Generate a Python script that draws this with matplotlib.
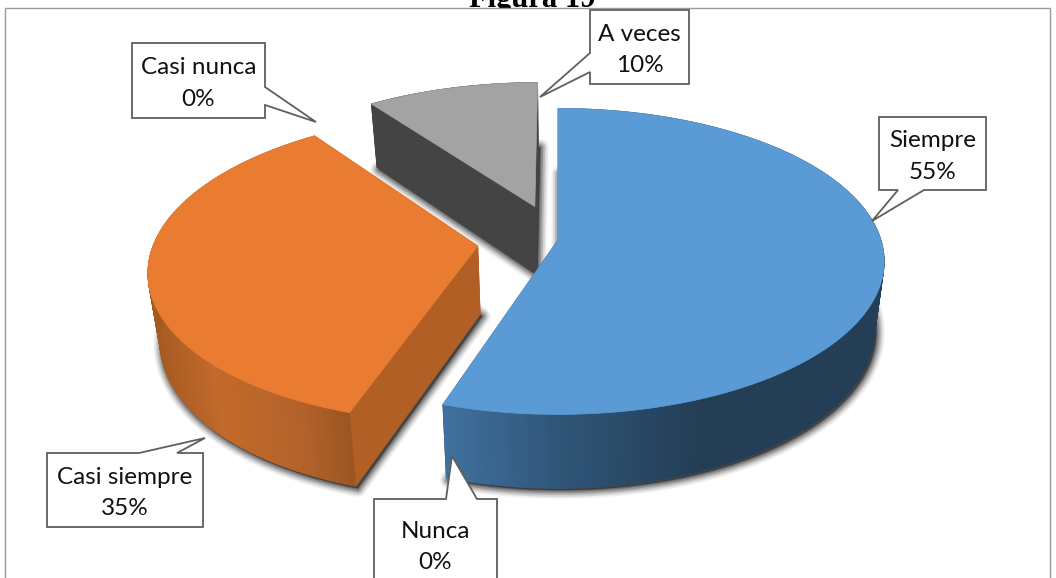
import numpy as np
import matplotlib
matplotlib.use("Agg")
import matplotlib.pyplot as plt
from matplotlib.patches import Polygon, Rectangle
from matplotlib.collections import PolyCollection
from matplotlib.colors import to_rgb

# ---- data ----
categories = ["Siempre", "Nunca", "Casi siempre", "Casi nunca", "A veces"]
percentages = [55, 0, 35, 0, 10]
title = "Figura 19"

# ---- styles / layout (pixel space) ----
top_colors = ["#5B9BD5", "#4472C4", "#EA7C31", "#FFC000", "#A3A3A3"]
cut_colors = ["#2F5573", "#2F5573", "#B25F26", "#806000", "#444444"]
explode = [(0, 0), (0, 0), (-0.247, 0.04), (0, 0), (-0.074, -0.23)]
side_stops = [
    [(443, "#41719F"), (560, "#2F5578"), (700, "#233E56"), (890, "#233E56")],
    [(443, "#41719F"), (890, "#233E56")],
    [(148, "#A55A22"), (215, "#C56A2A"), (300, "#B3622A"), (352, "#9B5421")],
    [(148, "#A55A22"), (352, "#9B5421")],
    [(370, "#444444"), (540, "#444444")],
]
callouts = [
    dict(box=(879, 117, 986, 190), tip=(872, 221), side="bottom", base=(898, 924)),
    dict(box=(374, 499, 497, 600), tip=(452, 456), side="top", base=(446, 477), text_y=544),
    dict(box=(47, 453, 203, 527), tip=(205, 438), side="top", base=(139, 177)),
    dict(box=(132, 43, 265, 118), tip=(316, 122), side="right", base=(87, 105)),
    dict(box=(590, 10, 689, 84), tip=(540, 97), side="left", base=(53, 72)),
]
CX, CY, R, RY, K, DEPTH, BOTTOM_SCALE = 558, 240, 323, 150, 0.14, 68, 0.97

fig = plt.figure(figsize=(10.56, 5.78), dpi=100)
ax = fig.add_axes([0, 0, 1, 1])
ax.set_xlim(0, 1056)
ax.set_ylim(578, 0)
ax.axis("off")


def project(theta, ex, radial=1.0, bottom=False):
    """Clockwise angle from 12 o'clock on an exploded slice -> perspective screen position."""
    u = radial * np.sin(theta) + ex[0]
    v = -radial * np.cos(theta) + ex[1]
    s = 1 / (1 - K * v)
    scale = BOTTOM_SCALE if bottom else 1.0
    x = CX + R * u * s * scale
    y = CY + RY * v * s * scale + (DEPTH * s if bottom else 0)
    return x, y


def side_color(x, stops):
    xs = [p[0] for p in stops]
    cols = np.array([to_rgb(p[1]) for p in stops])
    return tuple(np.interp(x, xs, cols[:, i]) for i in range(3))


edges = np.cumsum([0] + percentages) / sum(percentages) * 2 * np.pi

# shadows of the bottom faces
for i in range(len(percentages)):
    if percentages[i] == 0:
        continue
    t = np.linspace(edges[i], edges[i + 1], 120)
    e = explode[i]
    bx, by = project(t, e, bottom=True)
    ax0, ay0 = project(0.0, e, radial=0.0, bottom=True)
    pts = np.column_stack([np.r_[ax0, bx] + 2, np.r_[ay0, by] + 2])
    for lw, al in [(12, 0.08), (9.5, 0.12), (7, 0.18), (4.5, 0.25), (2, 0.35)]:
        ax.add_patch(Polygon(pts, closed=True, fc="#2A2A2A", ec="#2A2A2A", lw=lw,
                             alpha=al, joinstyle="round", zorder=1))

# slices, back to front
draw_order = [4, 2, 0]
for zi, i in enumerate(draw_order):
    if percentages[i] == 0:
        continue
    z = 2 + zi
    e = explode[i]
    t = np.linspace(edges[i], edges[i + 1], 240)
    tx, ty = project(t, e)
    bx, by = project(t, e, bottom=True)
    apx, apy = project(0.0, e, radial=0.0)
    abx, aby = project(0.0, e, radial=0.0, bottom=True)

    # cut faces
    for j in (0, -1):
        ax.add_patch(Polygon([(apx, apy), (tx[j], ty[j]), (bx[j], by[j]), (abx, aby)],
                             closed=True, fc=cut_colors[i], ec=cut_colors[i], lw=0.5, zorder=z))
    # outer wall with gradient (the top face hides its back part)
    quads, cols = [], []
    for k in range(len(t) - 1):
        quads.append([(tx[k], ty[k]), (tx[k + 1], ty[k + 1]), (bx[k + 1], by[k + 1]), (bx[k], by[k])])
        cols.append(side_color(0.5 * (tx[k] + tx[k + 1]), side_stops[i]))
    ax.add_collection(PolyCollection(quads, facecolors=cols, edgecolors=cols, linewidths=0.5, zorder=z + 0.1))
    # top face
    ax.add_patch(Polygon(np.column_stack([np.r_[apx, tx], np.r_[apy, ty]]), closed=True,
                         fc=top_colors[i], ec=top_colors[i], lw=0.5, zorder=z + 0.2))

# callouts
for name, pct, co in zip(categories, percentages, callouts):
    x0, y0, x1, y1 = co["box"]
    a, b = co["base"]
    tip = co["tip"]
    if co["side"] == "top":
        pts = [(x0, y0), (a, y0), tip, (b, y0), (x1, y0), (x1, y1), (x0, y1)]
    elif co["side"] == "bottom":
        pts = [(x0, y0), (x1, y0), (x1, y1), (b, y1), tip, (a, y1), (x0, y1)]
    elif co["side"] == "right":
        pts = [(x0, y0), (x1, y0), (x1, a), tip, (x1, b), (x1, y1), (x0, y1)]
    else:
        pts = [(x0, y0), (x1, y0), (x1, y1), (x0, y1), (x0, b), tip, (x0, a)]
    ax.add_patch(Polygon(pts, closed=True, fc="white", ec="#5F5F5F", lw=1.3, zorder=10))
    ax.text((x0 + x1) / 2, co.get("text_y", (y0 + y1) / 2) + 3, f"{name}\n{pct}%",
            ha="center", va="center", family="Lato", fontsize=17.5, color="#111111",
            linespacing=1.6, zorder=11)

# title (its lower part runs into the chart area), then the chart area and frame
ax.text(532, 7, title, ha="center", va="baseline", family="Liberation Serif",
        fontweight="bold", fontsize=22, color="black", zorder=0.2)
ax.add_patch(Rectangle((5, 8), 1045, 570, fc="white", ec="none", zorder=0.3))
ax.plot([5, 5, 1050, 1050], [578, 8, 8, 578], color="#9A9A9A", lw=1, zorder=0.5)

fig.savefig("out.png", dpi=100, facecolor="white")
